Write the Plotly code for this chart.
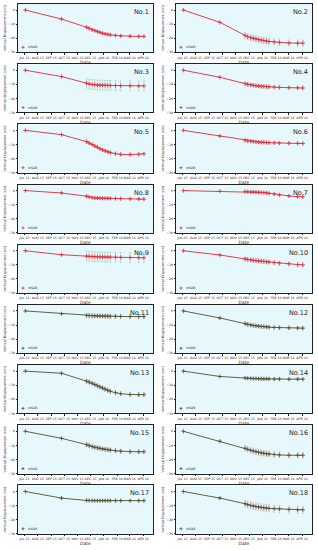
import plotly.graph_objects as go

dates = ["2015-07-03", "2015-09-25", "2015-11-22", "2015-11-28", "2015-12-05",
         "2015-12-11", "2015-12-17", "2015-12-23", "2015-12-29", "2016-01-04",
         "2016-01-10", "2016-01-16", "2016-01-28", "2016-02-09", "2016-03-02",
         "2016-03-22", "2016-04-03"]

labels = ["No.1", "No.2", "No.3", "No.4", "No.5", "No.6", "No.8", "No.7", "No.9",
          "No.10", "No.11", "No.12", "No.13", "No.14", "No.15", "No.16", "No.17", "No.18"]

v_no1 = [0, -6.4, -12.2, -13, -14, -14.6, -15.3, -15.8, -16.5, -17, -17.3, -17.6, -18, -18.4, -18.6, -18.7, -18.7]
v_no2 = [0, -8.7, -18, -19, -19.6, -20, -20.5, -21, -21.3, -21.6, -22, -22.3, -22.6, -23, -23.4, -23.5, -23.5]
v_no3 = [0, -4.5, -9.2, -9.8, -10.1, -10.3, -10.5, -10.6, -10.6, -10.7, -10.8, -10.8, -10.9, -11, -11, -11.1, -11.1]
v_no4 = [0, -5, -9.5, -10, -10.4, -10.7, -11, -11.2, -11.4, -11.5, -11.6, -11.8, -12, -12.2, -12.4, -12.5, -12.6]
v_no5 = [0, -3, -8, -9, -10, -11, -12, -13, -13.8, -14.5, -15.2, -15.7, -16.5, -17, -17.2, -17, -16.6]
v_no6 = [0, -4, -7, -7.4, -7.7, -7.9, -8.1, -8.3, -8.4, -8.5, -8.6, -8.7, -8.8, -9, -9.1, -9.2, -9.3]
v_no8 = [0, -1.7, -4, -4.5, -5, -5.2, -5.3, -5.4, -5.4, -5.5, -5.5, -5.5, -5.6, -5.7, -5.8, -6, -6.1]
v_no7 = [0, -0.5, -0.7, -0.8, -0.9, -1, -1.1, -1.2, -1.3, -1.4, -1.6, -1.9, -2.4, -3.1, -3.8, -4.3, -4.4]
v_no9 = [0, -2.8, -3.8, -4, -4.1, -4.2, -4.3, -4.3, -4.4, -4.4, -4.5, -4.5, -4.6, -4.7, -4.8, -4.9, -5]
v_no10 = [0, -3, -5.8, -6.2, -6.5, -6.8, -7, -7.2, -7.4, -7.6, -7.8, -8, -8.4, -8.8, -9.3, -9.8, -10]
v_no11 = [0, -2, -3.2, -3.3, -3.4, -3.5, -3.5, -3.6, -3.6, -3.7, -3.7, -3.8, -3.8, -3.9, -4, -4, -4]
v_no12 = [0, -5, -9, -9.5, -10, -10.3, -10.5, -10.8, -11, -11.1, -11.3, -11.5, -11.7, -11.9, -12, -12.1, -12.2]
v_no13 = [0, -1.5, -7.1, -7.8, -8.6, -9.5, -10.3, -11.2, -12, -12.8, -13.6, -14.3, -15.3, -16, -16.6, -16.7, -16.7]
v_no14 = [0, -3.8, -4.9, -5.1, -5.2, -5.3, -5.3, -5.4, -5.4, -5.5, -5.5, -5.5, -5.6, -5.6, -5.7, -5.7, -5.7]
v_no15 = [0, -5, -9.5, -10.2, -10.8, -11.3, -11.7, -12.1, -12.5, -12.8, -13.1, -13.3, -13.8, -14.2, -14.4, -14.5, -14.5]
v_no16 = [0, -7, -12, -12.8, -13.5, -14, -14.5, -14.9, -15.3, -15.6, -15.9, -16.1, -16.5, -16.8, -17, -17, -17]
v_no17 = [0, -4.7, -6.4, -6.4, -6.5, -6.5, -6.5, -6.5, -6.5, -6.5, -6.5, -6.5, -6.5, -6.5, -6.5, -6.5, -6.5]
v_no18 = [0, -4.7, -8.7, -9.4, -9.9, -10.3, -10.7, -11, -11.3, -11.6, -11.8, -12, -12.2, -12.4, -12.8, -13, -13]

series = [v_no1, v_no2, v_no3, v_no4, v_no5, v_no6, v_no8, v_no7, v_no9,
          v_no10, v_no11, v_no12, v_no13, v_no14, v_no15, v_no16, v_no17, v_no18]

# error magnitude per panel (cm)
err_mag = [0.8, 2.2, 3.5, 1.2, 1.0, 1.0, 0.8, 0.8, 3.5, 1.5, 1.5, 1.2, 1.5, 0.8, 1.5, 2.0, 0.8, 2.5]

tick_dates = ["2015-07-01", "2015-08-01", "2015-09-01", "2015-10-01", "2015-11-01",
              "2015-12-01", "2016-01-01", "2016-02-01", "2016-03-01", "2016-04-01"]
tick_text = ["JUL 15", "AUG 15", "SEP 15", "OCT 15", "NOV 15", "DEC 15", "JAN 16",
             "FEB 16", "MAR 16", "APR 16"]
y_ticks = [0, -10, -20, -30]

W, H = 318, 550


def px(X):
    return min(1.0, max(0.0, X / W))


def py(Y):
    return min(1.0, max(0.0, 1 - Y / H))


fig = go.Figure()
layout = dict(width=W, height=H, margin=dict(l=0, r=0, t=0, b=0),
              paper_bgcolor="white", showlegend=False,
              font=dict(family="DejaVu Sans", color="#222"))
annotations = []
shapes = []

col_x = [(18, 153), (176, 312)]
for i, (lab, vals) in enumerate(zip(labels, series)):
    r, c = divmod(i, 2)
    top = 4 + 60.4 * r
    bot = top + 48.5
    x0, x1 = col_x[c]
    n = i + 1
    xa = "x" if n == 1 else f"x{n}"
    ya = "y" if n == 1 else f"y{n}"
    red = i < 10
    lc = "#e8283c" if red else "#4a5236"
    ec = "rgba(130,170,130,0.7)" if red else "rgba(235,120,120,0.7)"
    errs = [0 if k < 2 else err_mag[i] for k in range(len(vals))]
    fig.add_trace(go.Scatter(
        x=dates, y=vals, xaxis=xa, yaxis=ya, mode="lines+markers", name="InSAR",
        line=dict(color=lc, width=0.9),
        marker=dict(symbol="cross-thin", size=3, line=dict(color=lc, width=0.8)),
        error_y=dict(type="data", array=errs, visible=True, color=ec, thickness=0.5, width=1),
    ))
    axkey_x = "xaxis" if n == 1 else f"xaxis{n}"
    axkey_y = "yaxis" if n == 1 else f"yaxis{n}"
    layout[axkey_x] = dict(
        domain=[px(x0), px(x1)], anchor=ya, range=["2015-06-16", "2016-04-24"],
        tickvals=tick_dates, ticktext=tick_text, tickfont=dict(size=3.2), tickangle=0,
        showgrid=False, showline=True, linecolor="#222", linewidth=0.8, mirror=True,
        ticks="outside", ticklen=1.5, tickwidth=0.5, tickcolor="#222",
        title=dict(text="Date", font=dict(size=4.5), standoff=1), zeroline=False,
    )
    layout[axkey_y] = dict(
        domain=[py(bot), py(top)], anchor=xa, range=[-30, 4.3],
        tickvals=y_ticks, tickfont=dict(size=3.2),
        showgrid=False, showline=True, linecolor="#222", linewidth=0.8, mirror=True,
        ticks="outside", ticklen=1.5, tickwidth=0.5, tickcolor="#222",
        title=dict(text="Vertical Displacement (cm)", font=dict(size=3.4), standoff=2),
        zeroline=False,
    )
    shapes.append(dict(type="rect", xref="paper", yref="paper",
                       x0=px(x0), x1=px(x1), y0=py(bot), y1=py(top),
                       fillcolor="#e7f8fc", line=dict(width=0), layer="below"))
    annotations.append(dict(text=lab, xref="paper", yref="paper",
                            x=px(x1 - 2), y=py(top + 2), xanchor="right",
                            yanchor="top", showarrow=False, font=dict(size=6.5, color="#222")))
    # legend entry
    lx, ly = x0 + 5, bot - 5
    shapes.append(dict(type="line", xref="paper", yref="paper",
                       x0=px(lx - 1.5), x1=px(lx + 1.5), y0=py(ly), y1=py(ly),
                       line=dict(color=lc, width=0.8)))
    shapes.append(dict(type="line", xref="paper", yref="paper",
                       x0=px(lx), x1=px(lx), y0=py(ly - 1.5), y1=py(ly + 1.5),
                       line=dict(color=lc, width=0.8)))
    annotations.append(dict(text="InSAR", xref="paper", yref="paper",
                            x=px(lx + 3), y=py(ly), xanchor="left", yanchor="middle",
                            showarrow=False, font=dict(size=3.2, color="#222")))

layout["annotations"] = annotations
layout["shapes"] = shapes
layout["plot_bgcolor"] = "rgba(0,0,0,0)"
fig.update_layout(**layout)
fig.write_html("out.html", config={"displayModeBar": False},
               post_script="document.body.style.margin='0px';")
